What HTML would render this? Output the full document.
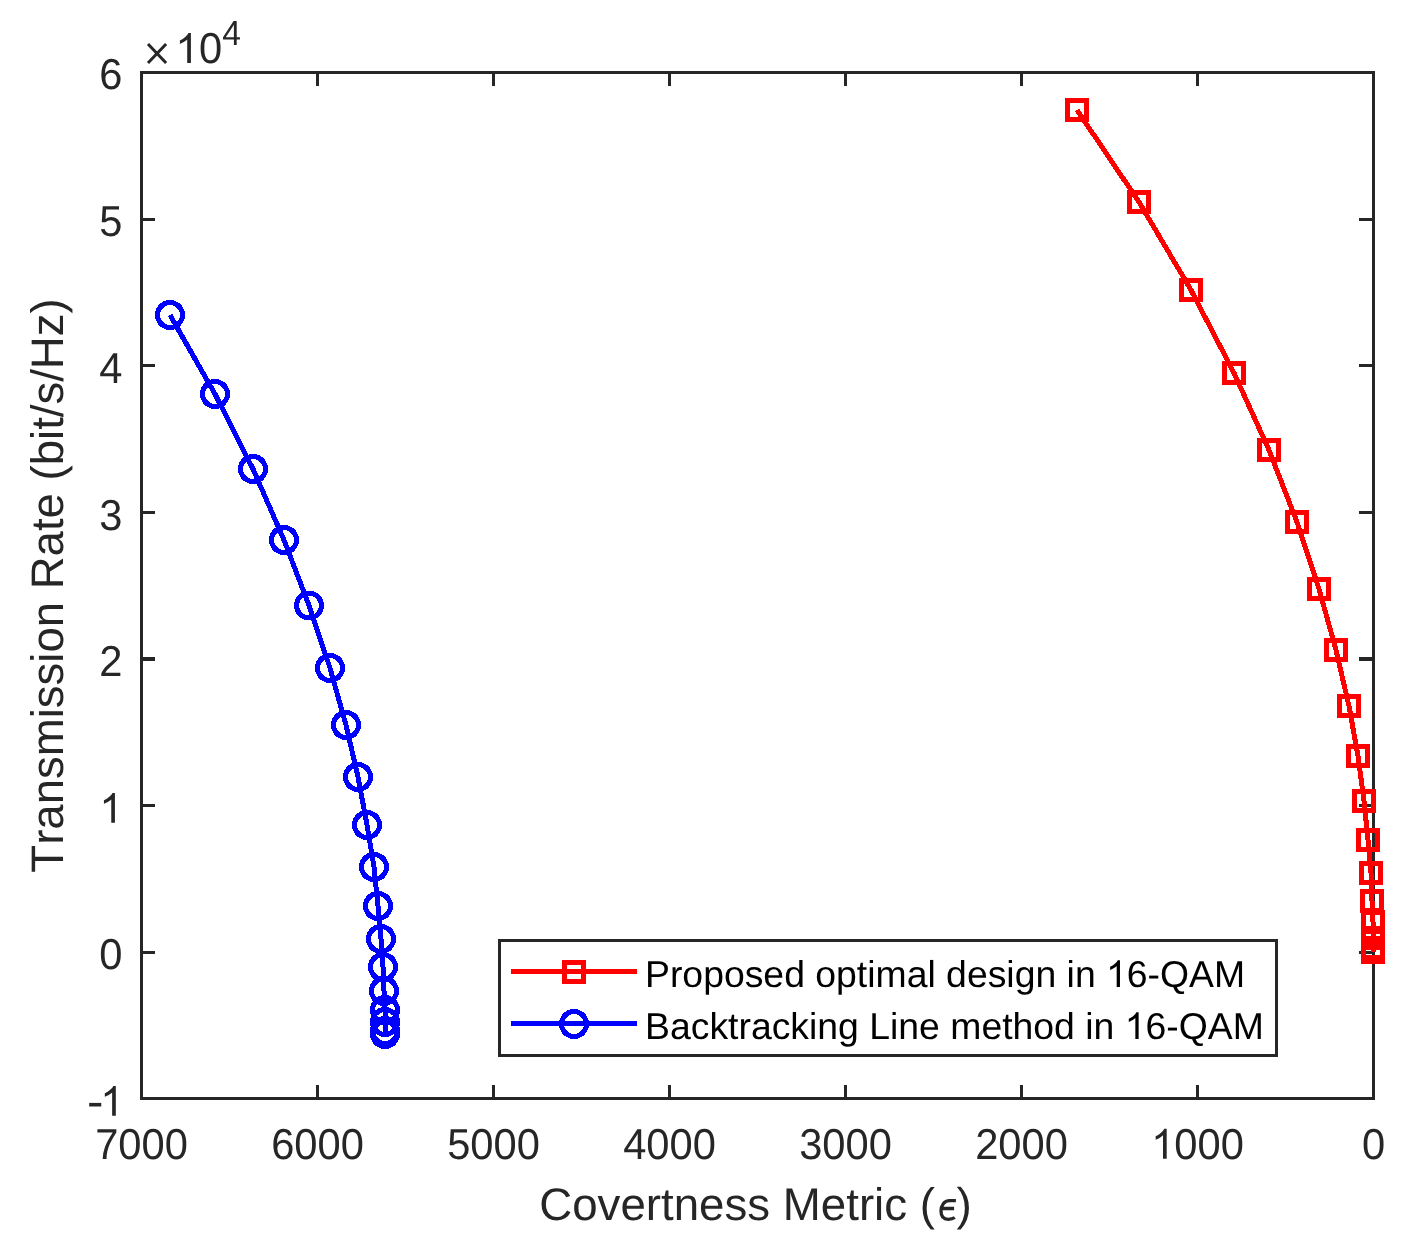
<!DOCTYPE html>
<html><head><meta charset="utf-8"><title>chart</title>
<style>html,body{margin:0;padding:0;background:#fff}body{width:1406px;height:1248px;overflow:hidden}svg{display:block;will-change:transform}text{font-family:"Liberation Sans",sans-serif;font-kerning:none;text-rendering:geometricPrecision;fill:#262626}</style></head><body>
<svg width="1406" height="1248" viewBox="0 0 1406 1248">
<rect x="0" y="0" width="1406" height="1248" fill="#fff"/>
<g shape-rendering="crispEdges">
<path d="M1197.5 1098V1085M1197.5 73V86M1021.5 1098V1085M1021.5 73V86M845.5 1098V1085M845.5 73V86M669.5 1098V1085M669.5 73V86M493.5 1098V1085M493.5 73V86M317.5 1098V1085M317.5 73V86M142 219.5H155M1373 219.5H1359M142 365.5H155M1373 365.5H1359M142 512.5H155M1373 512.5H1359M142 805.5H155M1373 805.5H1359M142 952.5H155M1373 952.5H1359" stroke="#262626" stroke-width="3" fill="none"/>
<path d="M142 659H155M1373 659H1359" stroke="#262626" stroke-width="4" fill="none"/>
<rect x="141.5" y="72.5" width="1232.0" height="1026.0" fill="none" stroke="#262626" stroke-width="3"/>
<polyline points="1077,110 1139,202 1191,290 1234,373 1269,450 1297,522 1319,589 1336,650 1349,706 1358,756 1364,801 1368,840 1371,873 1372,901 1373,922 1373,938 1373,948 1373,952" fill="none" stroke="#ff0000" stroke-width="5"/>
<rect x="1067.5" y="100.5" width="19" height="19" fill="none" stroke="#ff0000" stroke-width="5"/>
<rect x="1129.5" y="192.5" width="19" height="19" fill="none" stroke="#ff0000" stroke-width="5"/>
<rect x="1181.5" y="280.5" width="19" height="19" fill="none" stroke="#ff0000" stroke-width="5"/>
<rect x="1224.5" y="363.5" width="19" height="19" fill="none" stroke="#ff0000" stroke-width="5"/>
<rect x="1259.5" y="440.5" width="19" height="19" fill="none" stroke="#ff0000" stroke-width="5"/>
<rect x="1287.5" y="512.5" width="19" height="19" fill="none" stroke="#ff0000" stroke-width="5"/>
<rect x="1309.5" y="579.5" width="19" height="19" fill="none" stroke="#ff0000" stroke-width="5"/>
<rect x="1326.5" y="640.5" width="19" height="19" fill="none" stroke="#ff0000" stroke-width="5"/>
<rect x="1339.5" y="696.5" width="19" height="19" fill="none" stroke="#ff0000" stroke-width="5"/>
<rect x="1348.5" y="746.5" width="19" height="19" fill="none" stroke="#ff0000" stroke-width="5"/>
<rect x="1354.5" y="791.5" width="19" height="19" fill="none" stroke="#ff0000" stroke-width="5"/>
<rect x="1358.5" y="830.5" width="19" height="19" fill="none" stroke="#ff0000" stroke-width="5"/>
<rect x="1361.5" y="863.5" width="19" height="19" fill="none" stroke="#ff0000" stroke-width="5"/>
<rect x="1362.5" y="891.5" width="19" height="19" fill="none" stroke="#ff0000" stroke-width="5"/>
<rect x="1363.5" y="912.5" width="19" height="19" fill="none" stroke="#ff0000" stroke-width="5"/>
<rect x="1363.5" y="928.5" width="19" height="19" fill="none" stroke="#ff0000" stroke-width="5"/>
<rect x="1363.5" y="938.5" width="19" height="19" fill="none" stroke="#ff0000" stroke-width="5"/>
<rect x="1363.5" y="942.5" width="19" height="19" fill="none" stroke="#ff0000" stroke-width="5"/>
<polyline points="170,315 215,394 253,469 284,540 309,605.5 330,668 346,725 358,777 367,825 374,867 378,906 381,939 383,967 384,991 385,1010 385,1022 385,1031 385,1034" fill="none" stroke="#0000ff" stroke-width="5"/>
<circle cx="170" cy="315" r="12.5" fill="none" stroke="#0000ff" stroke-width="5"/>
<circle cx="215" cy="394" r="12.5" fill="none" stroke="#0000ff" stroke-width="5"/>
<circle cx="253" cy="469" r="12.5" fill="none" stroke="#0000ff" stroke-width="5"/>
<circle cx="284" cy="540" r="12.5" fill="none" stroke="#0000ff" stroke-width="5"/>
<circle cx="309" cy="605.5" r="12.5" fill="none" stroke="#0000ff" stroke-width="5"/>
<circle cx="330" cy="668" r="12.5" fill="none" stroke="#0000ff" stroke-width="5"/>
<circle cx="346" cy="725" r="12.5" fill="none" stroke="#0000ff" stroke-width="5"/>
<circle cx="358" cy="777" r="12.5" fill="none" stroke="#0000ff" stroke-width="5"/>
<circle cx="367" cy="825" r="12.5" fill="none" stroke="#0000ff" stroke-width="5"/>
<circle cx="374" cy="867" r="12.5" fill="none" stroke="#0000ff" stroke-width="5"/>
<circle cx="378" cy="906" r="12.5" fill="none" stroke="#0000ff" stroke-width="5"/>
<circle cx="381" cy="939" r="12.5" fill="none" stroke="#0000ff" stroke-width="5"/>
<circle cx="383" cy="967" r="12.5" fill="none" stroke="#0000ff" stroke-width="5"/>
<circle cx="384" cy="991" r="12.5" fill="none" stroke="#0000ff" stroke-width="5"/>
<circle cx="385" cy="1010" r="12.5" fill="none" stroke="#0000ff" stroke-width="5"/>
<circle cx="385" cy="1022" r="12.5" fill="none" stroke="#0000ff" stroke-width="5"/>
<circle cx="385" cy="1031" r="12.5" fill="none" stroke="#0000ff" stroke-width="5"/>
<circle cx="385" cy="1034" r="12.5" fill="none" stroke="#0000ff" stroke-width="5"/>
<rect x="499.5" y="940.5" width="777" height="115" fill="#fff" stroke="#262626" stroke-width="3"/>
<line x1="511" y1="971.5" x2="637" y2="971.5" stroke="#ff0000" stroke-width="5"/>
<rect x="564.5" y="962.5" width="19" height="19" fill="none" stroke="#ff0000" stroke-width="5"/>
<line x1="511" y1="1023.5" x2="637" y2="1023.5" stroke="#0000ff" stroke-width="5"/>
<circle cx="574" cy="1024" r="12.5" fill="none" stroke="#0000ff" stroke-width="5"/>
</g>
<text transform="translate(1373.5,1158.7) scale(1,1.036)" font-size="41.67" text-anchor="middle">0</text>
<path transform="translate(1151.15,1158.70) scale(0.02035,-0.02035)" d="M763 0H583V1147Q518 1085 412.5 1023T223 930V1104Q373 1174.5 485.5 1275T645 1470H763Z" fill="#262626"/>
<text transform="translate(1174.33,1158.7) scale(1,1.036)" font-size="41.67">000</text>
<text transform="translate(1021.5,1158.7) scale(1,1.036)" font-size="41.67" text-anchor="middle">2000</text>
<text transform="translate(845.5,1158.7) scale(1,1.036)" font-size="41.67" text-anchor="middle">3000</text>
<text transform="translate(669.5,1158.7) scale(1,1.036)" font-size="41.67" text-anchor="middle">4000</text>
<text transform="translate(493.5,1158.7) scale(1,1.036)" font-size="41.67" text-anchor="middle">5000</text>
<text transform="translate(317.5,1158.7) scale(1,1.036)" font-size="41.67" text-anchor="middle">6000</text>
<text transform="translate(141.5,1158.7) scale(1,1.036)" font-size="41.67" text-anchor="middle">7000</text>
<rect x="89.2" y="1102.9" width="12.05" height="3.6" fill="#262626"/>
<path transform="translate(100.28,1115.80) scale(0.02035,-0.02035)" d="M763 0H583V1147Q518 1085 412.5 1023T223 930V1104Q373 1174.5 485.5 1275T645 1470H763Z" fill="#262626"/>
<text transform="translate(122.3,968.9) scale(1,1.036)" font-size="41.67" text-anchor="end">0</text>
<path transform="translate(99.40,822.80) scale(0.02035,-0.02035)" d="M763 0H583V1147Q518 1085 412.5 1023T223 930V1104Q373 1174.5 485.5 1275T645 1470H763Z" fill="#262626"/>
<text transform="translate(122.3,676.0) scale(1,1.036)" font-size="41.67" text-anchor="end">2</text>
<text transform="translate(122.3,529.7) scale(1,1.036)" font-size="41.67" text-anchor="end">3</text>
<text transform="translate(122.3,383.0) scale(1,1.036)" font-size="41.67" text-anchor="end">4</text>
<text transform="translate(122.3,235.6) scale(1,1.036)" font-size="41.67" text-anchor="end">5</text>
<text transform="translate(122.3,89.3) scale(1,1.036)" font-size="41.67" text-anchor="end">6</text>
<path d="M148 44L166.1 63M166.1 44L148 63" stroke="#262626" stroke-width="3" fill="none"/>
<path transform="translate(175.36,62.90) scale(0.02035,-0.02035)" d="M763 0H583V1147Q518 1085 412.5 1023T223 930V1104Q373 1174.5 485.5 1275T645 1470H763Z" fill="#262626"/>
<text transform="translate(199.1,62.5) scale(1,1.036)" font-size="41.67">0</text>
<text transform="translate(222.3,44.9) scale(1,1.036)" font-size="33.6">4</text>
<text x="539.2" y="1220" font-size="45.66">Covertness Metric (</text>
<path d="M955.9 1200.6L949.5 1200.6C944.3 1200.6 941 1205.5 941 1211C941 1216.2 943.6 1219.3 948.2 1219.3C951 1219.3 953 1218.8 954.8 1217.5M942.5 1208.5H954.1" stroke="#262626" stroke-width="3.3" fill="none"/>
<text x="956.6" y="1220" font-size="45.83">)</text>
<text transform="translate(62.7,585.5) rotate(-90)" font-size="45.54" text-anchor="middle">Transmission Rate (bit/s/Hz)</text>
<text x="645" y="987" font-size="37.36" style="fill:#000">Proposed optimal design in</text>
<path transform="translate(1106.05,987.00) scale(0.01824,-0.01824)" d="M763 0H583V1147Q518 1085 412.5 1023T223 930V1104Q373 1174.5 485.5 1275T645 1470H763Z" fill="#000"/>
<text x="1126.83" y="987" font-size="37.36" style="fill:#000">6-QAM</text>
<text x="645" y="1039" font-size="37.36" style="fill:#000">Backtracking Line method in</text>
<path transform="translate(1124.71,1039.00) scale(0.01824,-0.01824)" d="M763 0H583V1147Q518 1085 412.5 1023T223 930V1104Q373 1174.5 485.5 1275T645 1470H763Z" fill="#000"/>
<text x="1145.49" y="1039" font-size="37.36" style="fill:#000">6-QAM</text>
</svg></body></html>
